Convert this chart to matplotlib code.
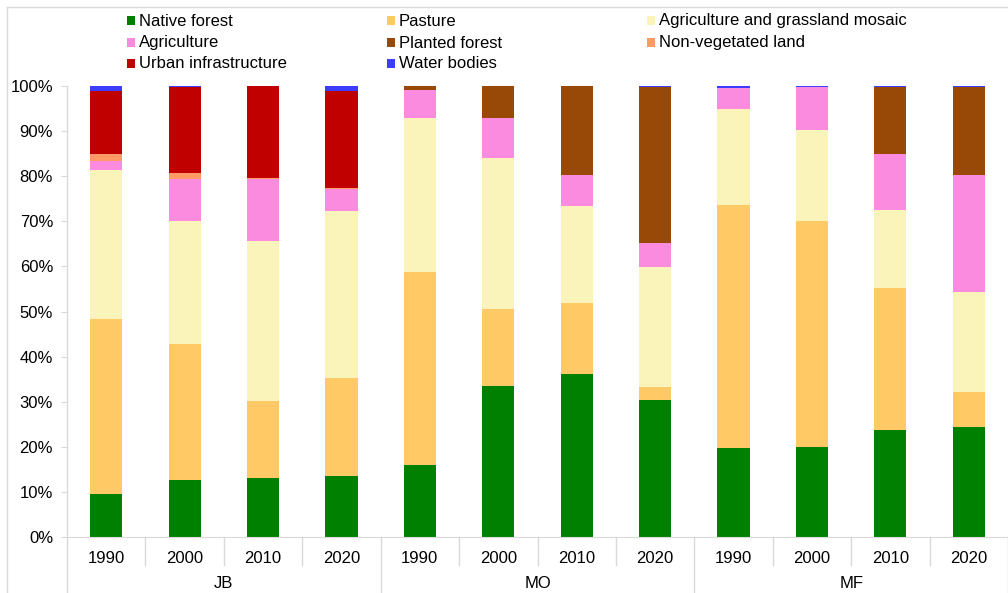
import matplotlib
matplotlib.use("Agg")
import matplotlib.pyplot as plt
from matplotlib.patches import Rectangle
from matplotlib.lines import Line2D
import numpy as np

plt.rcParams['font.family'] = ['Liberation Sans', 'DejaVu Sans']

sites = ["JB", "MO", "MF"]
years = ["1990", "2000", "2010", "2020"]

categories = ["Native forest", "Pasture", "Agriculture and grassland mosaic",
              "Agriculture", "Planted forest", "Non-vegetated land",
              "Urban infrastructure", "Water bodies"]
colors = ["#008000", "#FFCA66", "#FAF4BA", "#FA8BDE", "#984807", "#FF9966",
          "#C00000", "#3D3DFF"]

# percentages per bar (JB 1990..2020, MO 1990..2020, MF 1990..2020)
native_forest = [9.5, 12.6, 13.1, 13.5, 16.0, 33.5, 36.2, 30.4, 19.7, 20.0, 23.7, 24.4]
pasture = [38.8, 30.2, 17.1, 21.8, 42.8, 17.1, 15.7, 2.9, 53.9, 50.0, 31.4, 7.8]
agri_mosaic = [33.1, 27.3, 35.5, 37.0, 34.2, 33.4, 21.5, 26.6, 21.2, 20.2, 17.4, 22.1]
agriculture = [1.9, 9.3, 13.7, 4.8, 6.1, 8.8, 6.9, 5.2, 4.8, 9.5, 12.4, 26.0]
planted_forest = [0.0, 0.0, 0.0, 0.0, 0.8, 7.1, 19.6, 34.7, 0.0, 0.0, 14.9, 19.5]
non_vegetated = [1.6, 1.2, 0.1, 0.2, 0.0, 0.0, 0.0, 0.0, 0.0, 0.0, 0.0, 0.0]
urban = [14.1, 19.1, 20.4, 21.5, 0.0, 0.0, 0.0, 0.0, 0.0, 0.0, 0.0, 0.0]
water = [1.0, 0.3, 0.2, 1.4, 0.1, 0.1, 0.1, 0.2, 0.4, 0.3, 0.2, 0.2]

series = [native_forest, pasture, agri_mosaic, agriculture, planted_forest,
          non_vegetated, urban, water]

W, H = 1008, 593
fig = plt.figure(figsize=(W / 100, H / 100), dpi=100)
ax = fig.add_axes([67 / W, 1 - 537 / H, 1 - 67 / W, 451 / H])

n = len(sites) * len(years)
x = np.arange(n)
bottom = np.zeros(n)
for vals, col, lab in zip(series, colors, categories):
    v = np.array(vals)
    ax.bar(x, v, bottom=bottom, width=0.41, color=col, label=lab, linewidth=0)
    bottom += v

ax.set_xlim(-0.5, n - 0.5)
ax.set_ylim(0, 100)
ax.set_yticks(np.arange(0, 101, 10))
ax.set_yticklabels([f"{v}%" for v in range(0, 101, 10)], fontsize=12)
ax.tick_params(axis='y', length=4, color='#D9D9D9', pad=6)
ax.set_xticks(x)
ax.set_xticklabels(years * len(sites), fontsize=12)
ax.tick_params(axis='x', length=0, pad=10)

for s in ['top', 'right']:
    ax.spines[s].set_visible(False)
ax.spines['left'].set_visible(False)
ax.spines['bottom'].set_color('#D9D9D9')

gray = '#D9D9D9'
trans = ax.get_xaxis_transform()
# left axis line extending down to bottom of figure
ax.plot([-0.5, -0.5], [1, -56 / 451], color=gray, lw=1, transform=trans, clip_on=False)
for i in range(1, n + 1):
    b = i - 0.5
    if i % len(years) == 0:
        ax.plot([b, b], [0, -56 / 451], color=gray, lw=1, transform=trans, clip_on=False)
    else:
        ax.plot([b, b], [0, -28 / 451], color=gray, lw=1, transform=trans, clip_on=False)

for k, s in enumerate(sites):
    cx = k * len(years) + (len(years) - 1) / 2
    ax.text(cx, -46 / 451, s, transform=trans, ha='center', va='center', fontsize=12)

# legend (manual, 3 columns)
col_x = [127, 387, 647]
row_y = [21, 43, 64]
for i, (lab, col) in enumerate(zip(categories, colors)):
    r, c = divmod(i, 3)
    px, py = col_x[c], row_y[r]
    fig.patches.append(Rectangle((px / W, 1 - (py + 4) / H), 8 / W, 9 / H,
                                 transform=fig.transFigure, facecolor=col,
                                 edgecolor='none'))
    fig.text((px + 12) / W, 1 - py / H, lab, fontsize=12, va='center', ha='left')

# outer border (top and left visible)
fig.add_artist(Line2D([7 / W, 7 / W], [0, 1 - 7 / H], color=gray, lw=1,
                      transform=fig.transFigure))
fig.add_artist(Line2D([7 / W, 1], [1 - 7 / H, 1 - 7 / H], color=gray, lw=1,
                      transform=fig.transFigure))

fig.savefig("out.png", dpi=100)
